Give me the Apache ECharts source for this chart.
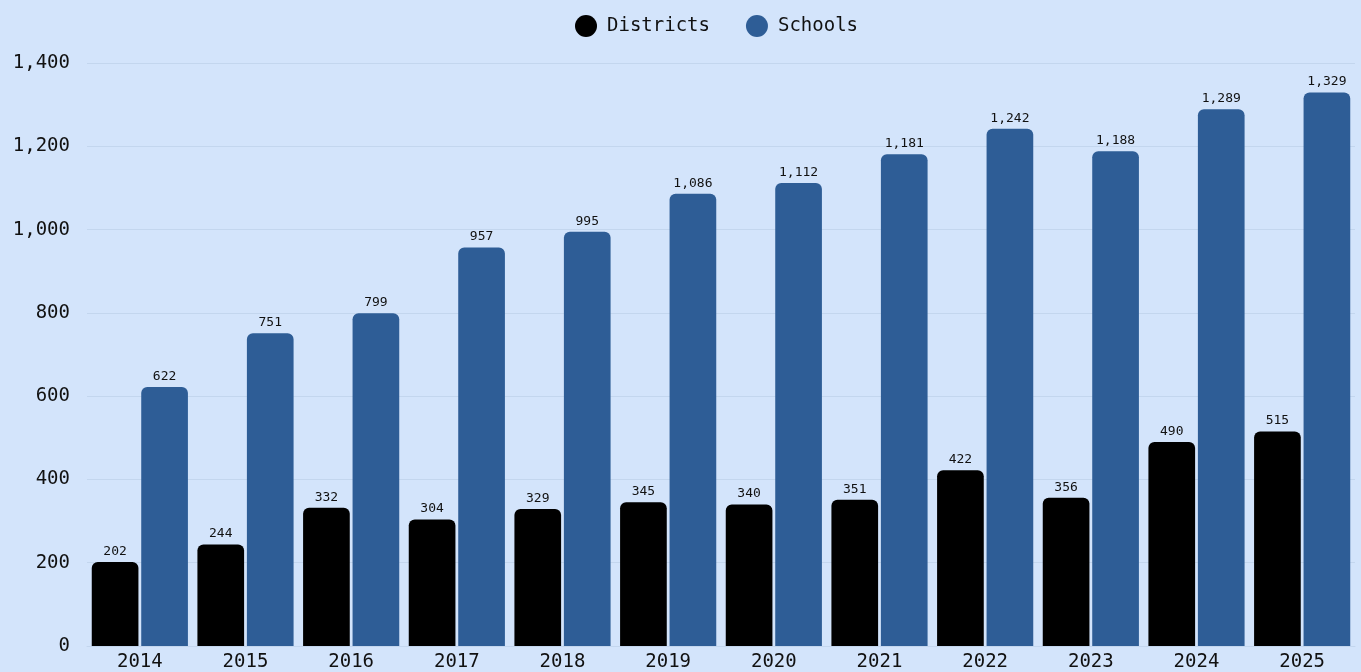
<!DOCTYPE html>
<html>
<head>
<meta charset="utf-8">
<script src="https://cdn.jsdelivr.net/npm/echarts@6/dist/echarts.min.js"></script>
<style>
html, body { margin: 0; padding: 0; background: #d3e4fb; }
#chart { width: 1361px; height: 672px; }
</style>
</head>
<body>
<div id="chart"></div>
<script>
const years = ['2014', '2015', '2016', '2017', '2018', '2019', '2020', '2021', '2022', '2023', '2024', '2025'];
const districts = [202, 244, 332, 304, 329, 345, 340, 351, 422, 356, 490, 515];
const schools = [622, 751, 799, 957, 995, 1086, 1112, 1181, 1242, 1188, 1289, 1329];

const monoFont = '"DejaVu Sans Mono", "Liberation Mono", monospace';
const fmt = (v) => v.toLocaleString('en-US');

const chart = echarts.init(document.getElementById('chart'));
const option = {
    backgroundColor: '#d3e4fb',
    textStyle: { fontFamily: monoFont },
    legend: {
        top: 10,
        left: 570,
        icon: 'circle',
        itemWidth: 22,
        itemHeight: 22,
        itemGap: 36,
        textStyle: { fontFamily: monoFont, fontSize: 19, color: '#111', padding: [0, 0, 0, 5] },
        data: ['Districts', 'Schools']
    },
    grid: {
        left: 87,
        right: 6,
        top: 63,
        bottom: 26
    },
    xAxis: {
        type: 'category',
        data: years,
        axisTick: { show: false },
        axisLine: { show: true, lineStyle: { color: '#c3d6ee' } },
        axisLabel: { fontFamily: monoFont, fontSize: 19, color: '#111', margin: 7 }
    },
    yAxis: {
        type: 'value',
        min: 0,
        max: 1400,
        interval: 200,
        axisLabel: {
            fontFamily: monoFont, fontSize: 19, color: '#111', margin: 17,
            formatter: (v) => fmt(v)
        },
        splitLine: { lineStyle: { color: '#c3d6ee', width: 1 } }
    },
    series: [
        {
            name: 'Districts',
            type: 'bar',
            data: districts,
            barGap: '6%',
            barCategoryGap: '9%',
            itemStyle: { color: '#000000', borderRadius: [6, 6, 0, 0] },
            label: {
                show: true, position: 'top', distance: 4,
                fontFamily: monoFont, fontSize: 13, color: '#111',
                formatter: (p) => fmt(p.value)
            }
        },
        {
            name: 'Schools',
            type: 'bar',
            data: schools,
            itemStyle: { color: '#2e5d96', borderRadius: [6, 6, 0, 0] },
            label: {
                show: true, position: 'top', distance: 4,
                fontFamily: monoFont, fontSize: 13, color: '#111',
                formatter: (p) => fmt(p.value)
            }
        }
    ]
};
chart.setOption(option);
</script>
</body>
</html>
